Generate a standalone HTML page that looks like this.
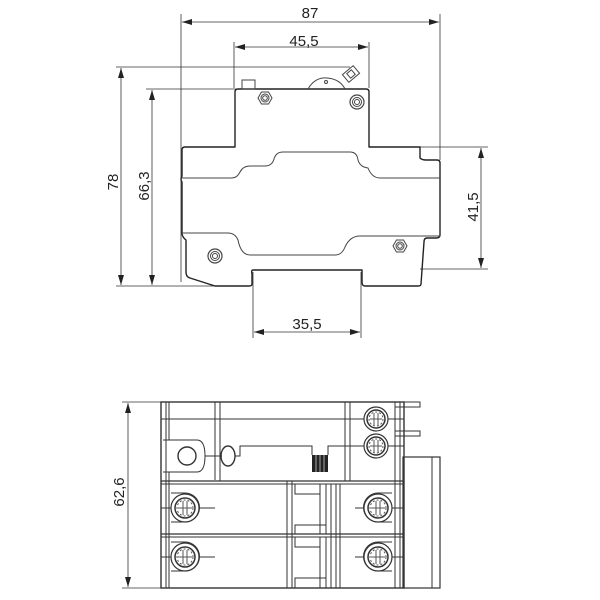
<!DOCTYPE html>
<html><head><style>body{margin:0;background:#fff}svg{display:block}text{font-family:"Liberation Sans",sans-serif;font-size:15px;fill:#222}</style></head><body>
<svg width="600" height="600" viewBox="0 0 600 600" xmlns="http://www.w3.org/2000/svg">
<defs>
<marker id="a" viewBox="0 0 10 6" refX="10" refY="3" markerWidth="10" markerHeight="6" orient="auto-start-reverse" markerUnits="userSpaceOnUse"><path d="M0,0L10,3L0,6z" fill="#222"/></marker>
<g id="hex"><polygon points="7,0 3.5,6 -3.5,6 -7,0 -3.5,-6 3.5,-6" fill="none" stroke="#444" stroke-width="1"/><circle r="4" fill="none" stroke="#444"/><circle r="2.3" fill="none" stroke="#444"/></g>
<g id="ring"><circle r="7" fill="none" stroke="#444" stroke-width="1.2"/><circle r="4.5" fill="none" stroke="#444"/><circle r="2.5" fill="none" stroke="#444"/></g>
<g id="scr"><circle r="14" fill="none" stroke="#333" stroke-width="1.2"/><circle r="10" fill="none" stroke="#333" stroke-width="1.5"/><circle r="8" fill="none" stroke="#555" stroke-dasharray="2 2"/><line x1="-7" y1="0" x2="7" y2="0" stroke="#555"/><line x1="-2" y1="-7" x2="-2" y2="7" stroke="#555"/><line x1="2" y1="-7" x2="2" y2="7" stroke="#555"/></g>
<g id="scr2"><circle r="12" fill="none" stroke="#333" stroke-width="1.2"/><circle r="9" fill="none" stroke="#333" stroke-width="1.5"/><circle r="7" fill="none" stroke="#555" stroke-dasharray="2 2"/><line x1="-6" y1="0" x2="6" y2="0" stroke="#555"/><line x1="-2" y1="-6" x2="-2" y2="6" stroke="#555"/><line x1="2" y1="-6" x2="2" y2="6" stroke="#555"/></g>
</defs>
<g stroke="#333" stroke-width="0.8" fill="none">
<line x1="181" y1="14" x2="181" y2="282"/>
<line x1="440" y1="14" x2="440" y2="160"/>
<line x1="234" y1="42" x2="234" y2="88"/>
<line x1="369" y1="42" x2="369" y2="88"/>
<line x1="116" y1="67" x2="350" y2="67"/>
<line x1="146" y1="89" x2="240" y2="89"/>
<line x1="116" y1="286" x2="215" y2="286"/>
<line x1="420" y1="147" x2="488" y2="147"/>
<line x1="420" y1="269" x2="488" y2="269"/>
<line x1="253" y1="272" x2="253" y2="338"/>
<line x1="361" y1="272" x2="361" y2="338"/>
<line x1="182" y1="22" x2="439" y2="22" marker-start="url(#a)" marker-end="url(#a)"/>
<line x1="235" y1="47" x2="368" y2="47" marker-start="url(#a)" marker-end="url(#a)"/>
<line x1="121" y1="68" x2="121" y2="285" marker-start="url(#a)" marker-end="url(#a)"/>
<line x1="152" y1="90" x2="152" y2="285" marker-start="url(#a)" marker-end="url(#a)"/>
<line x1="481" y1="148" x2="481" y2="268" marker-start="url(#a)" marker-end="url(#a)"/>
<line x1="254" y1="332" x2="360" y2="332" marker-start="url(#a)" marker-end="url(#a)"/>
</g>
<text x="310" y="18" text-anchor="middle">87</text>
<text x="304" y="46" text-anchor="middle">45,5</text>
<text x="307" y="329" text-anchor="middle">35,5</text>
<text transform="translate(118,182) rotate(-90)" text-anchor="middle">78</text>
<text transform="translate(149,186) rotate(-90)" text-anchor="middle">66,3</text>
<text transform="translate(478,207) rotate(-90)" text-anchor="middle">41,5</text>
<g stroke="#222" stroke-width="1.4" fill="none" stroke-linejoin="round">
<path d="M235,147 V92 Q235,89 238,89 H366 Q369,89 369,92 V147 H420 V158 Q422,160 426,160 H437 Q440,160 440,163 V235 Q440,238 436,238 H427 Q424,238 424,242 L421,284 Q421,286 418,286 H365 Q362,286 362,282 V270 H253 Q251,270 252,274 V284 Q252,286 249,286 H215 L190,278 Q186,277 186,272 V240 Q182,237 182,233 V182 Q180,180 182,176 V150 Q182,147 185,147 Z"/>
</g>
<g stroke="#444" stroke-width="1" fill="none">
<path d="M182,178 H232 Q237,178 240,172 Q243,166 250,166 H265 Q272,166 274,159 Q276,152 283,152 H350 Q357,152 358,160 Q360,167 368,168 Q372,178 380,178 H440"/>
<path d="M182,233 H228 Q235,233 238,240 Q241,255 250,255 H335 Q342,255 345,247 Q350,236 360,236 H440"/>
<rect x="242" y="80" width="13" height="9"/>
<path d="M308,89 Q315,77 327,78 Q340,79 345,89"/>
<circle cx="326" cy="82" r="1.5"/>
<g transform="translate(351,74) rotate(-40)"><rect x="-7" y="-5" width="14" height="10"/><rect x="-3" y="-3" width="6" height="6"/></g>
</g>
<use href="#hex" x="265" y="98"/>
<use href="#ring" x="357" y="102"/>
<use href="#ring" x="215" y="256"/>
<use href="#hex" x="400" y="246"/>
<g stroke="#333" stroke-width="0.8" fill="none">
<line x1="122" y1="402" x2="165" y2="402"/>
<line x1="122" y1="588" x2="165" y2="588"/>
<line x1="128" y1="403" x2="128" y2="587" marker-start="url(#a)" marker-end="url(#a)"/>
</g>
<text transform="translate(124,492) rotate(-90)" text-anchor="middle">62,6</text>
<g stroke="#333" stroke-width="1" fill="none">
<rect x="161" y="402" width="243" height="186" stroke-width="1.4"/>
<rect x="403" y="457" width="37" height="131" stroke-width="1.2"/>
<line x1="432" y1="457" x2="432" y2="588"/>
<line x1="166" y1="402" x2="166" y2="588"/>
<line x1="169" y1="402" x2="169" y2="440"/>
<line x1="169" y1="472" x2="169" y2="588"/>
<line x1="215" y1="402" x2="215" y2="480"/>
<line x1="220" y1="402" x2="220" y2="481"/>
<line x1="345" y1="402" x2="345" y2="481"/>
<line x1="350" y1="402" x2="350" y2="481"/>
<line x1="395" y1="402" x2="395" y2="588"/>
<line x1="400" y1="402" x2="400" y2="588"/>
<line x1="161" y1="419" x2="364" y2="419"/>
<line x1="161" y1="481" x2="404" y2="481" stroke-width="1.3"/>
<line x1="161" y1="484" x2="404" y2="484"/>
<line x1="161" y1="534" x2="404" y2="534" stroke-width="1.3"/>
<line x1="161" y1="537" x2="404" y2="537"/>
<path d="M163,440 H197 Q205,440 205,456 Q205,472 197,472 H163"/>
<circle cx="187" cy="456" r="9" stroke-width="1.4"/>
<ellipse cx="228" cy="456" rx="7" ry="10" stroke-width="1.4"/>
<line x1="205" y1="456" x2="222" y2="456"/>
<path d="M235,456 H240 V446 H312 V455"/>
<path d="M328,455 V446 H364"/>
<path d="M395,402 H420 V407 H395"/>
<path d="M395,431 H420 V436 H395"/>
<line x1="287" y1="481" x2="287" y2="588"/>
<line x1="292" y1="481" x2="292" y2="588"/>
<path d="M295,484 V494 H320 V484"/>
<path d="M295,534 V525 H320 V534"/>
<path d="M295,537 V547 H320 V537"/>
<path d="M295,588 V578 H320 V588"/>
<path d="M320,494 V525 H326 V534"/>
<path d="M320,547 V578 H326 V588"/>
<line x1="326" y1="484" x2="326" y2="534"/>
<line x1="326" y1="537" x2="326" y2="588"/>
<line x1="331" y1="484" x2="331" y2="588"/>
<line x1="336" y1="484" x2="336" y2="588"/>
<line x1="340" y1="484" x2="340" y2="588"/>
<line x1="161" y1="508" x2="215" y2="508"/>
<line x1="161" y1="557" x2="215" y2="557"/>
<line x1="355" y1="508" x2="404" y2="508"/>
<line x1="355" y1="557" x2="404" y2="557"/>
<line x1="350" y1="446" x2="404" y2="446"/>
<line x1="350" y1="419" x2="404" y2="419"/>
<path d="M171,493 H185 A14,14 0 0 1 185,522 H171"/>
<path d="M171,542 H185 A14,14 0 0 1 185,571 H171"/>
<path d="M392,493 H378 A14,14 0 0 0 378,522 H392"/>
<path d="M392,542 H378 A14,14 0 0 0 378,571 H392"/>
</g>
<rect x="312" y="455" width="16" height="17" fill="#222"/>
<g stroke="#fff" stroke-width="0.6"><line x1="316" y1="455" x2="316" y2="472"/><line x1="320" y1="455" x2="320" y2="472"/><line x1="324" y1="455" x2="324" y2="472"/></g>
<g fill="#fff"><circle cx="185" cy="508" r="14"/><circle cx="185" cy="557" r="14"/><circle cx="378" cy="508" r="14"/><circle cx="378" cy="557" r="14"/><circle cx="376" cy="419" r="12"/><circle cx="376" cy="446" r="12"/></g>
<use href="#scr" x="185" y="508"/>
<use href="#scr" x="185" y="557"/>
<use href="#scr" x="378" y="508"/>
<use href="#scr" x="378" y="557"/>
<use href="#scr2" x="376" y="419"/>
<use href="#scr2" x="376" y="446"/>
</svg>
</body></html>
